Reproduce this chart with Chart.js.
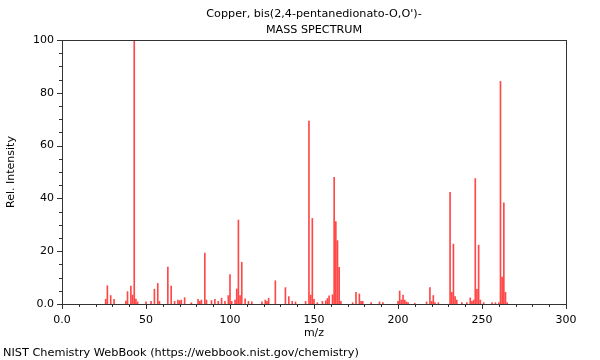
<!DOCTYPE html>
<html>
<head>
<meta charset="utf-8">
<script src="https://cdn.jsdelivr.net/npm/chart.js@4.4.0/dist/chart.umd.min.js"></script>
<style>
  body { margin: 0; background: #fff; }
  #myChart { display: block; }
</style>
</head>
<body>
<canvas id="myChart" width="600" height="360"></canvas>
<script>
// peaks
var mzList = [26, 27, 29, 31, 38, 39, 41, 42, 43, 44, 45, 50, 53, 55, 57, 58, 63, 65, 67, 69, 70, 71, 73,
  77, 81, 82, 83, 85, 86, 89, 91, 93, 95, 97, 99, 100, 101, 103, 104, 105, 106, 107, 109, 111, 113,
  119, 121, 122, 123, 127, 133, 135, 137, 139, 145, 147, 148, 149, 150, 152, 155, 157, 158, 159, 161,
  162, 163, 164, 165, 166, 173, 175, 177, 178, 179, 184, 189, 191, 200, 201, 202, 203, 204, 205, 206,
  210, 217, 219, 220, 221, 222, 224, 231, 232, 233, 234, 235, 238, 241, 243, 244, 245, 246, 247, 248,
  249, 251, 256, 258, 260, 261, 262, 263, 264, 265];
var relInt = [1.8, 6.9, 3.2, 1.8, 1.1, 4.7, 6.8, 3.4, 100, 1.9, 0.8, 0.8, 1.0, 5.6, 7.8, 1.0, 14.0, 6.8, 1.0, 1.5, 1.2, 1.5, 2.4,
  0.5, 1.8, 1.0, 1.5, 19.3, 1.5, 1.3, 1.8, 1.0, 2.2, 1.0, 3.2, 11.1, 1.0, 1.5, 5.7, 31.8, 3.2, 15.8, 2.0, 1.0, 0.8,
  0.8, 1.5, 1.0, 2.2, 8.8, 6.2, 2.8, 1.0, 0.8, 1.0, 69.3, 3.4, 32.4, 1.8, 0.5, 1.0, 1.2, 2.1, 3.1, 3.5,
  48.0, 31.2, 24.0, 13.9, 1.0, 0.5, 4.4, 3.8, 1.0, 1.0, 0.5, 0.8, 0.5, 1.0, 4.9, 1.5, 3.4, 1.5, 0.8, 0.5,
  0.3, 0.8, 6.2, 1.0, 3.2, 0.5, 0.5, 42.3, 4.4, 22.7, 2.8, 1.5, 0.5, 0.5, 2.3, 1.0, 1.5, 47.5, 5.6, 22.3,
  1.5, 0.5, 0.5, 0.5, 0.5, 84.3, 10.2, 38.3, 4.4, 0.5];

var titleLines = ["Copper, bis(2,4-pentanedionato-O,O')-", "MASS SPECTRUM"];
var footerText = "NIST Chemistry WebBook (https://webbook.nist.gov/chemistry)";
var xLabelStep = 50;   // labelled ticks on m/z
var yLabelStep = 20;   // labelled ticks on intensity

var FONT = "DejaVu Sans";
var myChart;

// frame, tick marks, title and footer
const framePlugin = {
  id: 'frame',
  afterDraw(chart) {
    const ctx = chart.ctx;
    const a = chart.chartArea;
    const xs = chart.scales.x, ys = chart.scales.y;
    ctx.save();
    ctx.strokeStyle = '#333';
    ctx.lineWidth = 1;
    ctx.strokeRect(Math.round(a.left) + 0.5, Math.round(a.top) + 0.5,
      Math.round(a.right - a.left), Math.round(a.bottom - a.top));

    // x ticks (every 10, long every 50)
    ctx.beginPath();
    xs.ticks.forEach(t => {
      const px = Math.round(xs.getPixelForValue(t.value)) + 0.5;
      const len = (t.value % xLabelStep === 0) ? 5 : 3;
      ctx.moveTo(px, Math.round(a.bottom));
      ctx.lineTo(px, Math.round(a.bottom) + len);
    });
    // y ticks (every 5, long every 20)
    ys.ticks.forEach(t => {
      const py = Math.round(ys.getPixelForValue(t.value)) + 0.5;
      const len = (t.value % yLabelStep === 0) ? 5 : 3;
      ctx.moveTo(Math.round(a.left), py);
      ctx.lineTo(Math.round(a.left) - len, py);
    });
    ctx.stroke();

    ctx.fillStyle = '#000';
    ctx.font = '11.2px "' + FONT + '"';
    ctx.textAlign = 'center';
    ctx.textBaseline = 'middle';
    const cx = (a.left + a.right) / 2;
    ctx.fillText(titleLines[0], cx, 14);
    ctx.fillText(titleLines[1], cx, 30);

    ctx.font = '11.3px "' + FONT + '"';
    ctx.textAlign = 'left';
    ctx.fillText(footerText, 3, 353);
    ctx.restore();
  }
};

const chartConfig = {
  type: 'bar',
  data: {
    datasets: [{
      label: 'Rel. Intensity',
      data: mzList.map((m, i) => ({ x: m, y: relInt[i] })),
      backgroundColor: 'rgba(255, 0, 0, 0.72)',
      borderWidth: 0,
      barThickness: 1,
    }]
  },
  options: {
    responsive: false,
    animation: false,
    layout: {
      padding: { top: 40, right: 34, left: 0, bottom: 0 }
    },
    plugins: {
      legend: { display: false },
      title: { display: false },
      tooltip: { enabled: false },
    },
    scales: {
      x: {
        type: 'linear',
        min: 0,
        max: 300,
        offset: false,
        grid: { display: false, drawTicks: false },
        border: { display: false },
        ticks: {
          stepSize: 10,
          autoSkip: false,
          maxRotation: 0,
          padding: 10,
          color: '#000',
          font: { family: FONT, size: 11 },
          callback: v => v === 0 ? '0.0' : (v % xLabelStep === 0 ? String(v) : ''),
        },
        title: {
          display: true,
          text: 'm/z',
          color: '#000',
          font: { family: FONT, size: 11 },
          padding: { top: 0, bottom: 20 },
        },
        afterFit: s => { s.height = 56; },
      },
      y: {
        min: 0,
        max: 100,
        grid: { display: false, drawTicks: false },
        border: { display: false },
        ticks: {
          stepSize: 5,
          autoSkip: false,
          padding: 8,
          color: '#000',
          font: { family: FONT, size: 11 },
          callback: v => v === 0 ? '0.0' : (v % yLabelStep === 0 ? String(v) : ''),
        },
        title: {
          display: true,
          text: 'Rel. Intensity',
          color: '#000',
          font: { family: FONT, size: 11 },
          padding: { top: 5, bottom: 0 },
        },
        afterFit: s => { s.width = 62; },
      }
    }
  },
  plugins: [framePlugin]
};

function createChart(chartID) {
  var chartDiv = document.querySelector(chartID);
  myChart = new Chart(chartDiv, chartConfig);
}

createChart('#myChart');
</script>
</body>
</html>
